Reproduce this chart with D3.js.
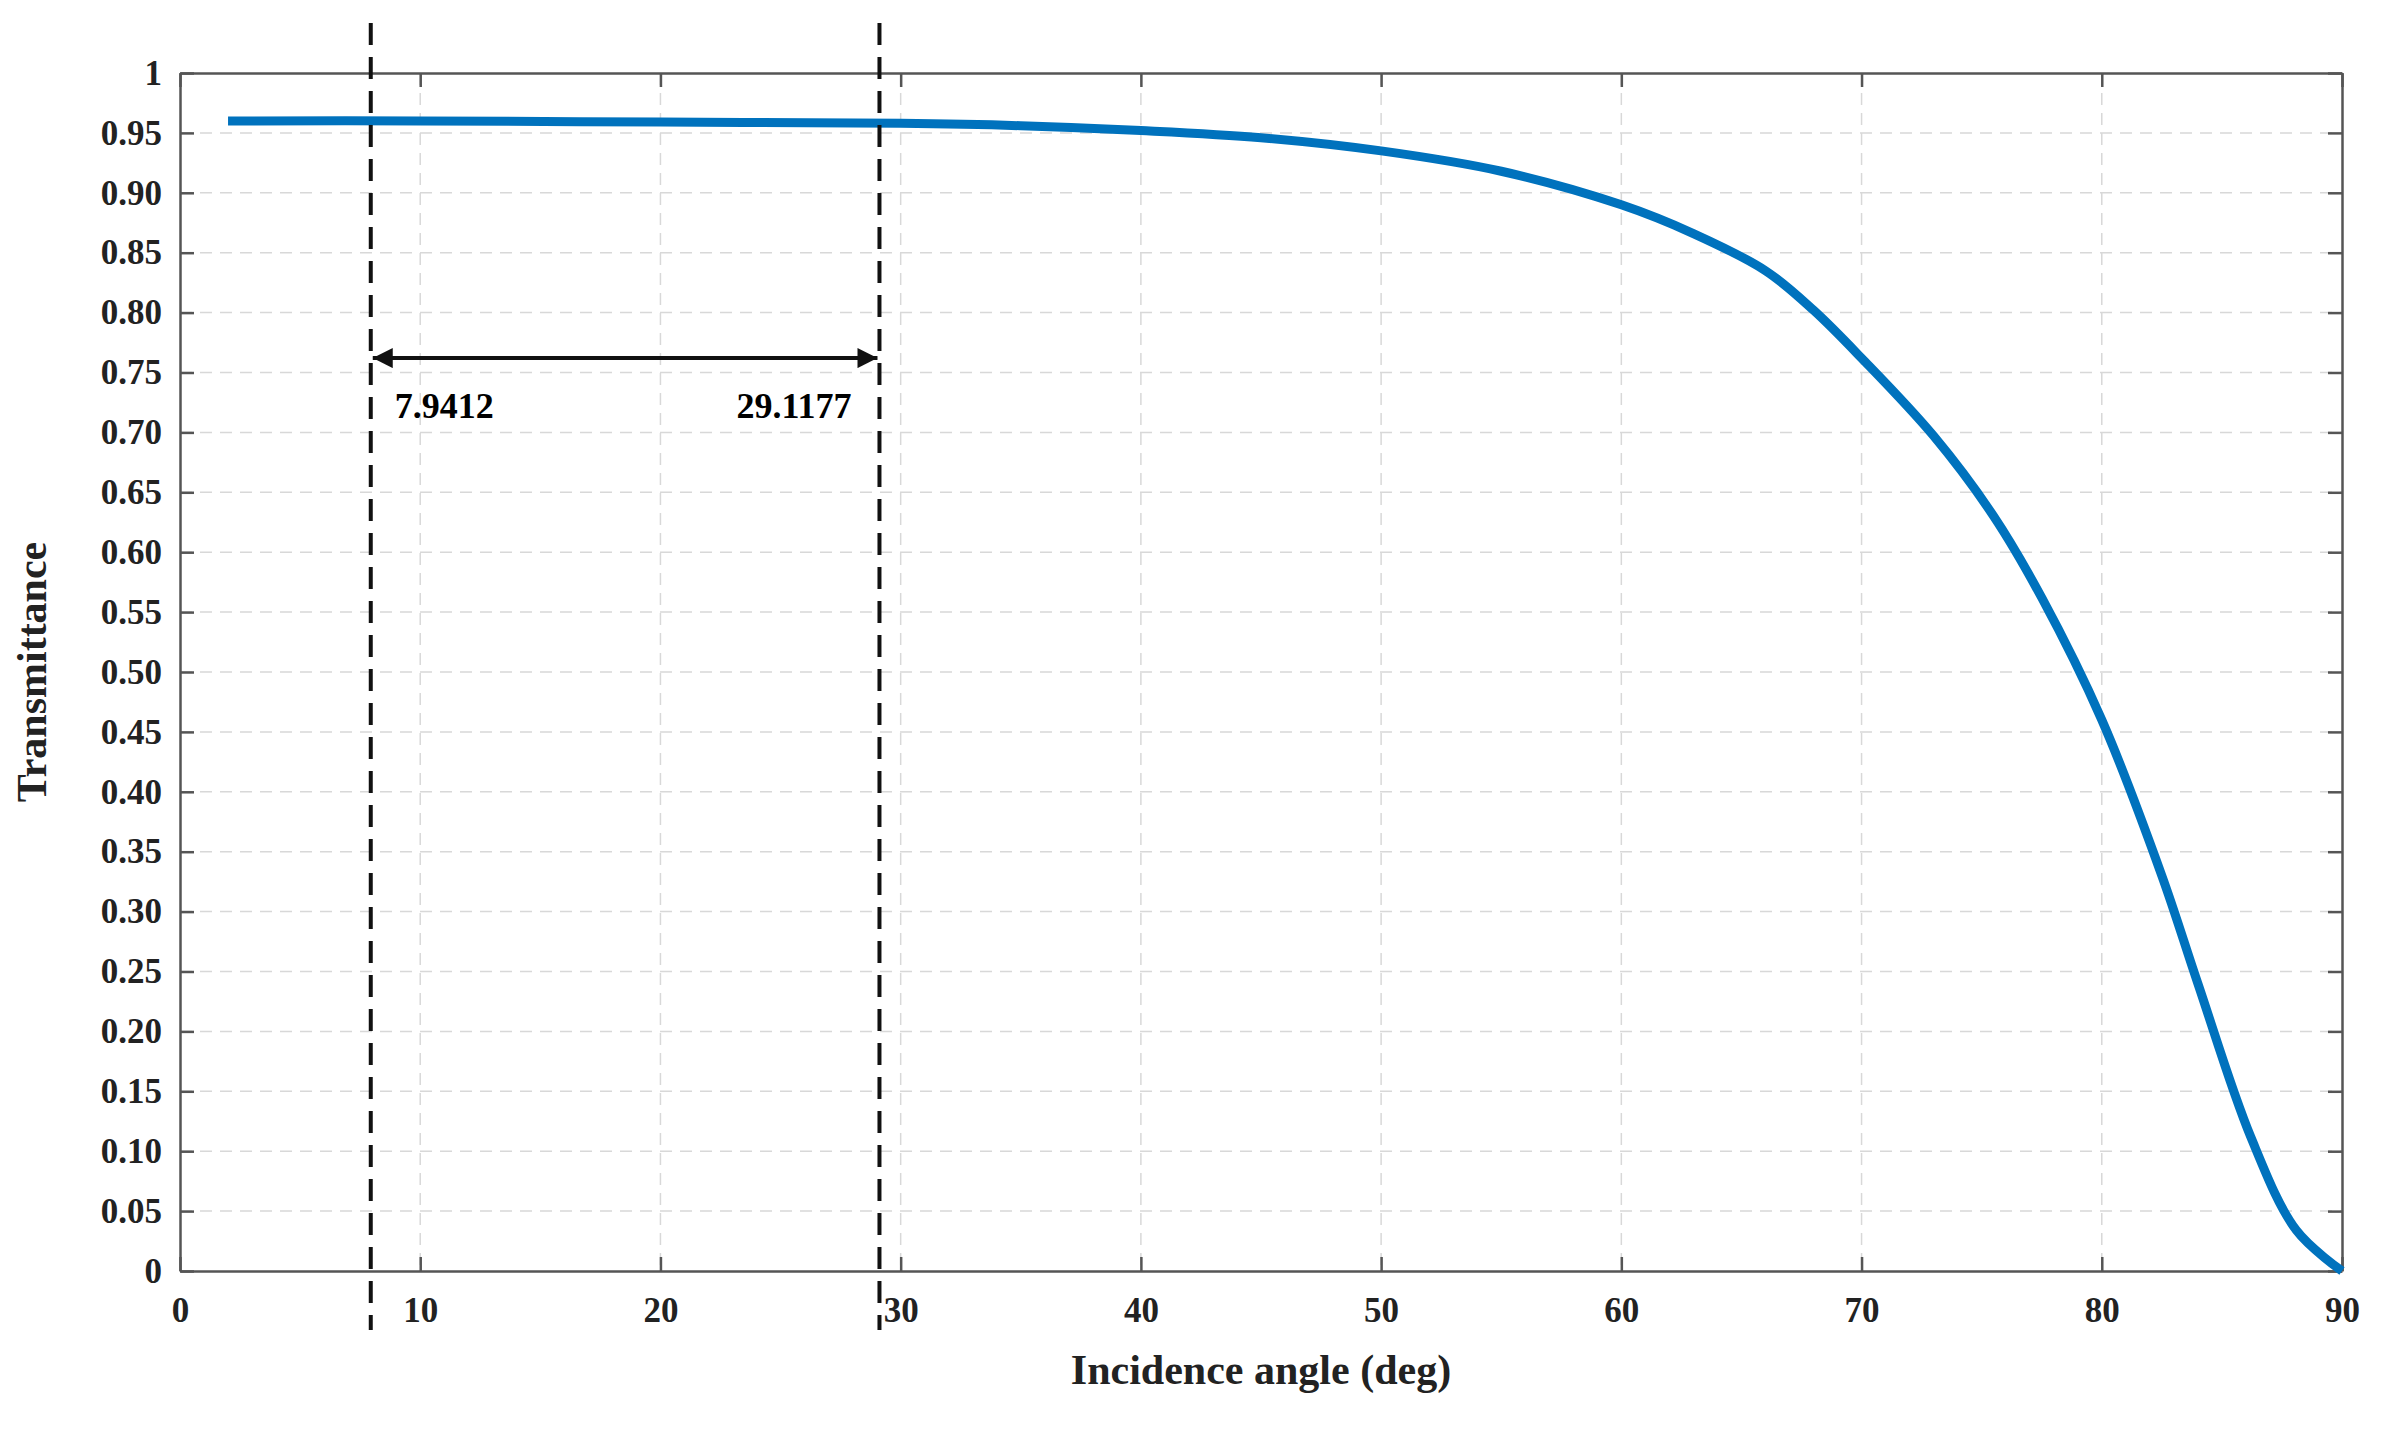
<!DOCTYPE html>
<html><head><meta charset="utf-8">
<script src="https://cdn.jsdelivr.net/npm/d3@7"></script>
<style>body{margin:0;background:#fff}</style></head>
<body><svg id="chart" width="2387" height="1429"></svg>
<script>
const angles = [2, 10, 20, 30, 35, 40, 45, 50, 55, 60, 63, 66, 68, 70, 73, 75.5, 77.5, 80, 82.5, 84, 86.2, 88.1, 90];
const transmittance = [0.960, 0.960, 0.959, 0.958, 0.956, 0.952, 0.946, 0.935, 0.918, 0.890, 0.866, 0.835, 0.802, 0.762, 0.697, 0.630, 0.562, 0.460, 0.330, 0.240, 0.112, 0.034, 0.0];
const markers = [7.9412, 29.1177];
const xTicks = [0, 10, 20, 30, 40, 50, 60, 70, 80, 90];
const yTicks = d3.range(0, 21).map(i => i * 0.05);

const svg = d3.select('#chart');
const m = {left: 180, right: 2342, top: 73, bottom: 1271};
const x = d3.scaleLinear().domain([0, 90]).range([m.left, m.right]);
const y = d3.scaleLinear().domain([0, 1]).range([m.bottom, m.top]);
const font = '"Liberation Serif", "Times New Roman", serif';

// grid
svg.append('g').selectAll('line').data(xTicks.slice(1, -1)).join('line')
    .attr('x1', d => x(d)).attr('x2', d => x(d)).attr('y1', m.top).attr('y2', m.bottom)
    .attr('stroke', '#d8d8d8').attr('stroke-width', 1.5).attr('stroke-dasharray', '12,8');
svg.append('g').selectAll('line').data(yTicks.slice(1, -1)).join('line')
    .attr('x1', m.left).attr('x2', m.right).attr('y1', d => y(d)).attr('y2', d => y(d))
    .attr('stroke', '#d8d8d8').attr('stroke-width', 1.5).attr('stroke-dasharray', '12,8');

const fmtY = d => (d === 0 ? '0' : Math.abs(d - 1) < 1e-9 ? '1' : d3.format('.2f')(d));

const ax = (g, axis) => {
    g.call(axis);
    g.select('.domain').attr('stroke', '#555').attr('stroke-width', 2.5);
    g.selectAll('.tick line').attr('stroke', '#555').attr('stroke-width', 2.5);
    g.selectAll('text').attr('font-family', font).attr('font-weight', 'bold')
        .attr('font-size', 35).attr('fill', '#222');
};
ax(svg.append('g').attr('transform', `translate(0,${m.bottom})`),
    d3.axisBottom(x).tickValues(xTicks).tickSize(-14).tickPadding(26).tickSizeOuter(0));
ax(svg.append('g').attr('transform', `translate(0,${m.top})`),
    d3.axisTop(x).tickValues(xTicks).tickSize(-14).tickFormat('').tickSizeOuter(0));
ax(svg.append('g').attr('transform', `translate(${m.left},0)`),
    d3.axisLeft(y).tickValues(yTicks).tickSize(-14).tickPadding(18).tickFormat(fmtY).tickSizeOuter(0));
ax(svg.append('g').attr('transform', `translate(${m.right},0)`),
    d3.axisRight(y).tickValues(yTicks).tickSize(-14).tickFormat('').tickSizeOuter(0));

// curve
svg.append('path').datum(angles.map((a, i) => [a, transmittance[i]]))
    .attr('d', d3.line().x(d => x(d[0])).y(d => y(d[1])).curve(d3.curveCatmullRom))
    .attr('fill', 'none').attr('stroke', '#0072BD').attr('stroke-width', 9)
    .attr('stroke-linejoin', 'round');

// marker lines
svg.append('g').selectAll('line').data(markers).join('line')
    .attr('x1', d => x(d)).attr('x2', d => x(d)).attr('y1', 23).attr('y2', 1330)
    .attr('stroke', '#111').attr('stroke-width', 4).attr('stroke-dasharray', '22,12');

// double arrow
const defs = svg.append('defs');
defs.append('marker').attr('id', 'arre').attr('viewBox', '0 0 10 10')
    .attr('refX', 10).attr('refY', 5).attr('markerWidth', 6).attr('markerHeight', 5)
    .attr('orient', 'auto')
    .append('path').attr('d', 'M0,0 L10,5 L0,10 Z').attr('fill', '#111');
defs.append('marker').attr('id', 'arrs').attr('viewBox', '0 0 10 10')
    .attr('refX', 0).attr('refY', 5).attr('markerWidth', 6).attr('markerHeight', 5)
    .attr('orient', 'auto')
    .append('path').attr('d', 'M10,0 L0,5 L10,10 Z').attr('fill', '#111');
svg.append('line').attr('x1', x(markers[0]) + 2).attr('x2', x(markers[1]) - 2)
    .attr('y1', y(0.762)).attr('y2', y(0.762))
    .attr('stroke', '#111').attr('stroke-width', 4)
    .attr('marker-start', 'url(#arrs)').attr('marker-end', 'url(#arre)');
svg.append('text').attr('x', x(markers[0]) + 24).attr('y', y(0.712))
    .attr('font-family', font).attr('font-weight', 'bold').attr('font-size', 36)
    .text(markers[0].toString());
svg.append('text').attr('x', x(markers[1]) - 28).attr('y', y(0.712)).attr('text-anchor', 'end')
    .attr('font-family', font).attr('font-weight', 'bold').attr('font-size', 36)
    .text(markers[1].toString());

// axis labels
svg.append('text').attr('x', (m.left + m.right) / 2).attr('y', 1384).attr('text-anchor', 'middle')
    .attr('font-family', font).attr('font-weight', 'bold').attr('font-size', 42).attr('fill', '#222')
    .text('Incidence angle (deg)');
svg.append('text').attr('transform', `translate(46,${(m.top + m.bottom) / 2}) rotate(-90)`)
    .attr('text-anchor', 'middle')
    .attr('font-family', font).attr('font-weight', 'bold').attr('font-size', 42).attr('fill', '#222')
    .text('Transmittance');
</script></body></html>
